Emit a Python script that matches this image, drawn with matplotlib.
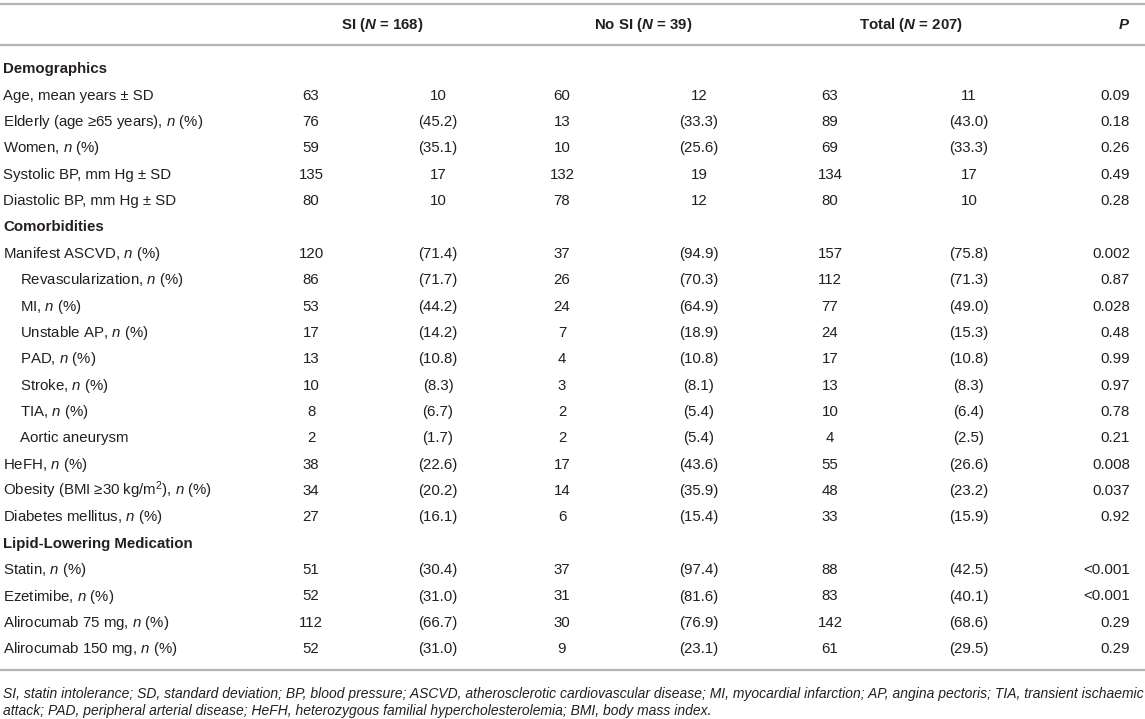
import matplotlib
matplotlib.use("Agg")
import matplotlib.pyplot as plt

plt.rcParams['font.family'] = ['Liberation Sans', 'DejaVu Sans']
plt.rcParams['mathtext.fontset'] = 'custom'
plt.rcParams['mathtext.rm'] = 'Liberation Sans'
plt.rcParams['mathtext.it'] = 'Liberation Sans:italic'
plt.rcParams['mathtext.bf'] = 'Liberation Sans:bold'
plt.rcParams['mathtext.bfit'] = 'Liberation Sans:bold:italic'

# ---------------- data ----------------
col_headers = [r"SI ($\mathbfit{N}$ = 168)", r"No SI ($\mathbfit{N}$ = 39)",
               r"Total ($\mathbfit{N}$ = 207)", r"$\mathbfit{P}$"]

row_labels = [
    "Demographics",
    "Age, mean years ± SD",
    r"Elderly (age ≥65 years), $\mathit{n}$ (%)",
    r"Women, $\mathit{n}$ (%)",
    "Systolic BP, mm Hg ± SD",
    "Diastolic BP, mm Hg ± SD",
    "Comorbidities",
    r"Manifest ASCVD, $\mathit{n}$ (%)",
    r"Revascularization, $\mathit{n}$ (%)",
    r"MI, $\mathit{n}$ (%)",
    r"Unstable AP, $\mathit{n}$ (%)",
    r"PAD, $\mathit{n}$ (%)",
    r"Stroke, $\mathit{n}$ (%)",
    r"TIA, $\mathit{n}$ (%)",
    "Aortic aneurysm",
    r"HeFH, $\mathit{n}$ (%)",
    r"Obesity (BMI ≥30 kg/m$^\mathregular{2}$), $\mathit{n}$ (%)",
    r"Diabetes mellitus, $\mathit{n}$ (%)",
    "Lipid-Lowering Medication",
    r"Statin, $\mathit{n}$ (%)",
    r"Ezetimibe, $\mathit{n}$ (%)",
    r"Alirocumab 75 mg, $\mathit{n}$ (%)",
    r"Alirocumab 150 mg, $\mathit{n}$ (%)",
]
section_rows = [0, 6, 18]
indented_rows = [8, 9, 10, 11, 12, 13, 14]

si_val = ["", "63", "76", "59", "135", "80", "", "120", "86", "53", "17", "13", "10", "8", "2",
          "38", "34", "27", "", "51", "52", "112", "52"]
si_sub = ["", "10", "(45.2)", "(35.1)", "17", "10", "", "(71.4)", "(71.7)", "(44.2)", "(14.2)",
          "(10.8)", "(8.3)", "(6.7)", "(1.7)", "(22.6)", "(20.2)", "(16.1)", "", "(30.4)", "(31.0)",
          "(66.7)", "(31.0)"]
nosi_val = ["", "60", "13", "10", "132", "78", "", "37", "26", "24", "7", "4", "3", "2", "2",
            "17", "14", "6", "", "37", "31", "30", "9"]
nosi_sub = ["", "12", "(33.3)", "(25.6)", "19", "12", "", "(94.9)", "(70.3)", "(64.9)", "(18.9)",
            "(10.8)", "(8.1)", "(5.4)", "(5.4)", "(43.6)", "(35.9)", "(15.4)", "", "(97.4)", "(81.6)",
            "(76.9)", "(23.1)"]
tot_val = ["", "63", "89", "69", "134", "80", "", "157", "112", "77", "24", "17", "13", "10", "4",
           "55", "48", "33", "", "88", "83", "142", "61"]
tot_sub = ["", "11", "(43.0)", "(33.3)", "17", "10", "", "(75.8)", "(71.3)", "(49.0)", "(15.3)",
           "(10.8)", "(8.3)", "(6.4)", "(2.5)", "(26.6)", "(23.2)", "(15.9)", "", "(42.5)", "(40.1)",
           "(68.6)", "(29.5)"]
p_vals = ["", "0.09", "0.18", "0.26", "0.49", "0.28", "", "0.002", "0.87", "0.028", "0.48", "0.99",
          "0.97", "0.78", "0.21", "0.008", "0.037", "0.92", "", "<0.001", "<0.001", "0.29", "0.29"]

footnote_lines = [
    "SI, statin intolerance; SD, standard deviation; BP, blood pressure; ASCVD, atherosclerotic "
    "cardiovascular disease; MI, myocardial infarction; AP, angina pectoris; TIA, transient ischaemic",
    "attack; PAD, peripheral arterial disease; HeFH, heterozygous familial hypercholesterolemia; "
    "BMI, body mass index.",
]

# ---------------- layout ----------------
W, H = 1145, 719
fig = plt.figure(figsize=(W / 100, H / 100), dpi=100)
ax = fig.add_axes([0, 0, 1, 1])
ax.set_xlim(0, W)
ax.set_ylim(H, 0)
ax.axis('off')

txt_color = "#231f20"
rule_color = "#b4b4b4"
fs = 10.8
fs_note = 10.0
base_off = 5.3

# rules
for y in (4, 45, 670):
    ax.plot([0, W], [y, y], color=rule_color, lw=1.6, solid_capstyle='butt')

# header
head_x = [382, 643, 911, 1130]
head_ha = ['center', 'center', 'center', 'right']
for hx, ha, h in zip(head_x, head_ha, col_headers):
    ax.text(hx, 24 + base_off, h, ha=ha, va='baseline', fontsize=fs, fontweight='bold',
            color=txt_color)

# body
y0, dy = 68, 26.36
col_x = [311, 438, 562, 699, 830, 969]
for i, lab in enumerate(row_labels):
    y = y0 + i * dy + base_off
    if i in section_rows:
        ax.text(3, y, lab, ha='left', va='baseline', fontsize=fs, fontweight='bold', color=txt_color)
        continue
    x = 20 if i in indented_rows else 3
    ax.text(x, y, lab, ha='left', va='baseline', fontsize=fs, color=txt_color)
    for cx, col in zip(col_x, [si_val, si_sub, nosi_val, nosi_sub, tot_val, tot_sub]):
        ax.text(cx, y, col[i], ha='center', va='baseline', fontsize=fs, color=txt_color)
    ax.text(1130, y, p_vals[i], ha='right', va='baseline', fontsize=fs, color=txt_color)

# footnote
for k, line in enumerate(footnote_lines):
    ax.text(3, 694 + k * 17 + 4, line, ha='left', va='baseline', fontsize=fs_note,
            style='italic', color=txt_color)

fig.savefig("out.png", dpi=100, facecolor='white')
